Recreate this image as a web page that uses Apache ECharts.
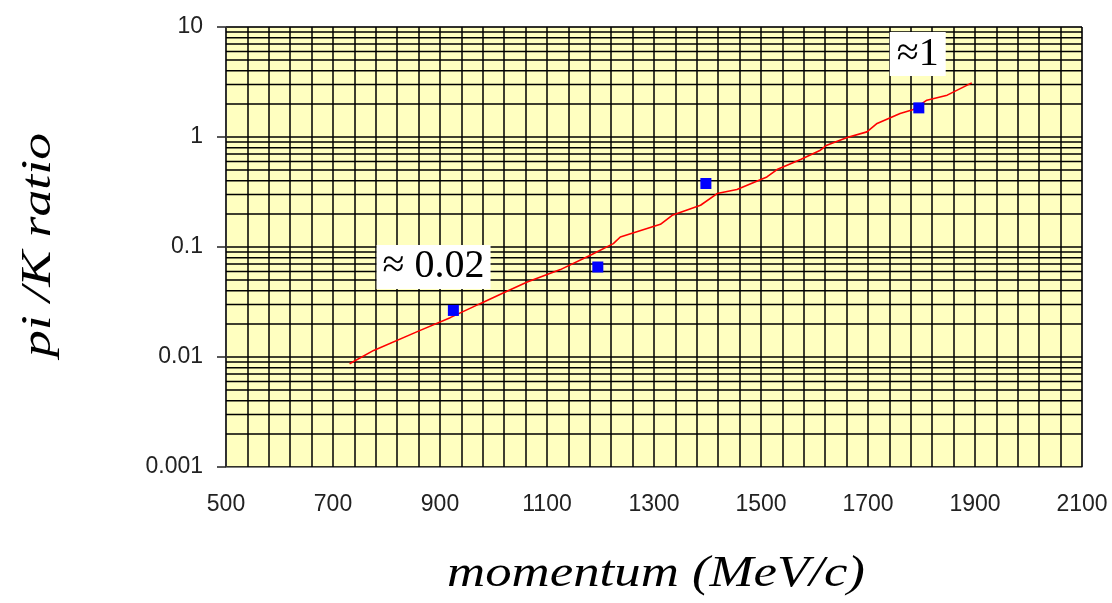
<!DOCTYPE html>
<html>
<head>
<meta charset="utf-8">
<script src="https://cdn.jsdelivr.net/npm/echarts@6/dist/echarts.min.js"></script>
<style>
html,body{margin:0;padding:0;background:#fff;}
#chart{width:1112px;height:603px;}
</style>
</head>
<body>
<div id="chart"></div>
<script>
// ---- data ----
const curveMomentum = [731, 776, 863, 919, 975, 1018, 1063, 1125, 1181, 1224, 1237, 1312, 1334, 1387, 1418, 1455, 1511, 1530, 1574, 1611, 1623, 1661, 1698, 1717, 1760, 1785, 1810, 1848, 1894];
const curveRatio = [0.00869, 0.01148, 0.01746, 0.02279, 0.03055, 0.03815, 0.0480, 0.0623, 0.0840, 0.1074, 0.1233, 0.1609, 0.1943, 0.2395, 0.3061, 0.3329, 0.4335, 0.506, 0.624, 0.759, 0.842, 0.989, 1.113, 1.327, 1.636, 1.779, 2.162, 2.401, 3.107];
const pointMomentum = [925, 1195, 1397, 1795];
const pointRatio = [0.0265, 0.0658, 0.378, 1.84];
const yTickLabels = ['0.001', '0.01', '0.1', '1', '10'];
const xTickLabels = ['500', '700', '900', '1100', '1300', '1500', '1700', '1900', '2100'];
const minorMultipliers = [2, 3, 4, 5, 6, 7, 8, 9];
const decades = [0.001, 0.01, 0.1, 1];
const annotationTexts = ['≈ 0.02', '≈1'];
const xTitle = 'momentum (MeV/c)';
const yTitle = 'pi /K ratio';

// ---- build ----
const X_MIN = 500, X_MAX = 2100;
const curveData = curveMomentum.map((m, i) => [m, curveRatio[i]]);
const pointData = pointMomentum.map((m, i) => [m, pointRatio[i]]);
const minorGridData = [];
decades.forEach(d => minorMultipliers.forEach(k => {
  const v = +(d * k).toPrecision(3);
  minorGridData.push([X_MIN, v], [X_MAX, v], ['-', '-']);
}));

const gridLineColor = '#000';
const titleFont = 'italic {S}px "Liberation Serif", "Times New Roman", serif';
const chart = echarts.init(document.getElementById('chart'), null, { renderer: 'canvas' });
chart.setOption({
  animation: false,
  backgroundColor: '#ffffff',
  grid: {
    left: 226, right: 30, top: 27, bottom: 136,
    show: true, backgroundColor: '#FFFFC0', borderColor: '#808080', borderWidth: 1
  },
  graphic: [
    {
      type: 'text', x: 656, y: 574, scaleX: 1.2, scaleY: 1, silent: true,
      style: { text: xTitle, font: titleFont.replace('{S}', 44), fill: '#000', align: 'center', verticalAlign: 'middle' }
    },
    {
      type: 'text', x: 39, y: 245, rotation: Math.PI / 2, scaleX: 1.25, scaleY: 1, silent: true,
      style: { text: yTitle, font: titleFont.replace('{S}', 43), fill: '#000', align: 'center', verticalAlign: 'middle' }
    }
  ],
  xAxis: {
    type: 'value', min: X_MIN, max: X_MAX, interval: 200,
    axisLine: { show: true, lineStyle: { color: '#808080', width: 1 } },
    axisTick: { show: false },
    axisLabel: {
      margin: 26, fontFamily: 'Liberation Sans', fontSize: 23, color: '#222',
      formatter: v => xTickLabels[Math.round((v - X_MIN) / 200)] || ''
    },
    splitLine: { show: true, lineStyle: { color: gridLineColor, width: 1.5 } },
    minorTick: { show: false, splitNumber: 5 },
    minorSplitLine: { show: true, lineStyle: { color: gridLineColor, width: 1.5 } }
  },
  yAxis: {
    type: 'log', logBase: 10, min: 0.001, max: 10,
    axisLine: { show: true, lineStyle: { color: '#333', width: 1 } },
    axisTick: { show: true, length: 9, lineStyle: { color: '#222', width: 1.5 } },
    axisLabel: {
      margin: 23, fontFamily: 'Liberation Sans', fontSize: 23, color: '#222',
      formatter: v => yTickLabels[Math.round(Math.log10(v) + 3)] || ''
    },
    splitLine: { show: true, lineStyle: { color: gridLineColor, width: 1.5 } }
  },
  series: [
    {
      type: 'line', data: minorGridData, silent: true, z: 1, showSymbol: false,
      connectNulls: false, clip: true,
      lineStyle: { color: gridLineColor, width: 1.5 }, emphasis: { disabled: true }
    },
    {
      type: 'line', data: curveData, showSymbol: false, z: 3, silent: true,
      lineStyle: { color: '#ff0000', width: 1.6 }, itemStyle: { color: '#ff0000' }
    },
    {
      type: 'scatter', data: pointData, symbol: 'rect', symbolSize: 11, z: 4,
      itemStyle: { color: '#0000ff', opacity: 1 },
      markPoint: {
        symbol: 'rect', symbolSize: 1, itemStyle: { color: 'rgba(0,0,0,0)' },
        label: {
          show: true, position: 'inside', fontFamily: 'Liberation Serif', fontSize: 40, color: '#000',
          backgroundColor: '#ffffff', padding: [3, 6, 1, 6]
        },
        data: [
          { coord: [888, 0.0658], value: annotationTexts[0], label: { formatter: annotationTexts[0] } },
          { coord: [1793, 5.67], value: annotationTexts[1], label: { formatter: annotationTexts[1], padding: [3, 7, 1, 7] } }
        ]
      }
    }
  ]
});
</script>
</body>
</html>
